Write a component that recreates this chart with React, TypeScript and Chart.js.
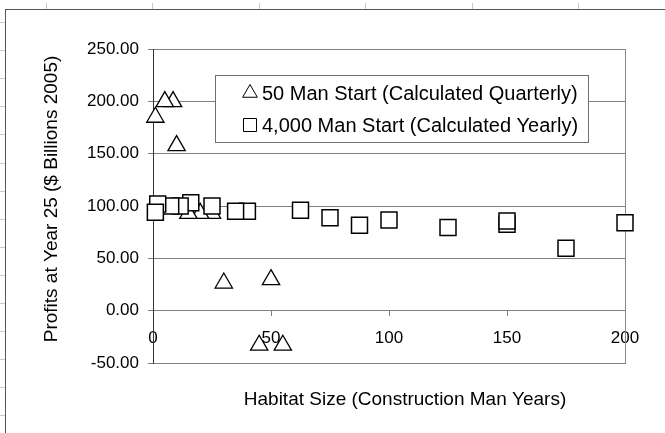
import React, { useEffect, useRef } from 'react';
import { Chart, registerables } from 'chart.js';

Chart.register(...registerables);

// ---- data ----
const seriesLabels = ['50 Man Start (Calculated Quarterly)', '4,000 Man Start (Calculated Yearly)'];
const triX = [55, 50, 45, 30, 25, 20, 15, 10, 8.5, 5, 1];
const triY = [-33, 29.6, -33, 26.4, 93, 93, 93, 157.7, 199.7, 199.7, 184.8];
const sqX = [200, 175, 150, 150, 125, 100, 87.5, 75, 62.5, 40, 35, 25, 16, 11.5, 7.5, 2, 1];
const sqY = [84, 59.6, 82.5, 85.6, 79.4, 86.6, 81.6, 88.7, 95.9, 95, 95, 100, 103, 100, 100, 102, 94];
const xTicks = [0, 50, 100, 150, 200];
const yTicks = [-50, 0, 50, 100, 150, 200, 250];
const xTitle = 'Habitat Size (Construction Man Years)';
const yTitle = 'Profits at Year 25 ($ Billions 2005)';

const FONT = '"Liberation Sans", Arial, Helvetica, sans-serif';

const framePlugin = {
  id: 'frameBox',
  beforeDatasetsDraw(chart: any) {
    const { ctx, chartArea: a } = chart;
    ctx.save();
    ctx.strokeStyle = '#888888';
    ctx.lineWidth = 1;
    ctx.beginPath();
    const x = Math.round(a.right) + 0.5;
    ctx.moveTo(x, Math.round(a.top));
    ctx.lineTo(x, Math.round(a.bottom) + 1);
    ctx.stroke();
    ctx.restore();
  },
};

const titlesPlugin = {
  id: 'axisTitles',
  afterDraw(chart: any) {
    const { ctx, chartArea: a } = chart;
    ctx.save();
    ctx.fillStyle = '#000';
    ctx.font = `19px ${FONT}`;
    ctx.textAlign = 'center';
    ctx.textBaseline = 'middle';
    ctx.fillText(xTitle, a.left + 252, a.bottom + 37);
    ctx.translate(52, a.top + 150);
    ctx.rotate(-Math.PI / 2);
    ctx.fillText(yTitle, 0, 0);
    ctx.restore();
  },
};

const legendPlugin = {
  id: 'boxLegend',
  afterDraw(chart: any) {
    const { ctx, chartArea: a } = chart;
    const bx = a.left + 62;
    const by = a.top + 26;
    const bw = 373;
    const bh = 67;
    ctx.save();
    ctx.fillStyle = '#ffffff';
    ctx.fillRect(bx, by, bw, bh);
    ctx.strokeStyle = '#707070';
    ctx.lineWidth = 1;
    ctx.strokeRect(bx + 0.5, by + 0.5, bw, bh);
    chart.data.datasets.forEach((ds: any, i: number) => {
      const cy = by + 18 + i * 32;
      const cx = bx + 35;
      ctx.strokeStyle = '#000';
      ctx.fillStyle = '#fff';
      ctx.lineWidth = 1;
      ctx.beginPath();
      if (ds.pointStyle === 'triangle') {
        const r = 8.5;
        ctx.moveTo(cx, cy - r);
        ctx.lineTo(cx + r * Math.sin((2 * Math.PI) / 3), cy + r / 2);
        ctx.lineTo(cx - r * Math.sin((2 * Math.PI) / 3), cy + r / 2);
        ctx.closePath();
      } else {
        ctx.rect(cx - 6.5, cy - 6.5, 13, 13);
      }
      ctx.fill();
      ctx.stroke();
      ctx.fillStyle = '#000';
      ctx.font = `20px ${FONT}`;
      ctx.textAlign = 'left';
      ctx.textBaseline = 'middle';
      ctx.fillText(ds.label, cx + 12, cy + 1);
    });
    ctx.restore();
  },
};

export default function App() {
  const canvasRef = useRef<HTMLCanvasElement>(null);

  useEffect(() => {
    document.body.style.margin = '0';
    const canvas = canvasRef.current;
    if (!canvas) return;
    const chart = new Chart(canvas, {
      type: 'scatter',
      data: {
        datasets: [
          {
            label: seriesLabels[0],
            data: triX.map((x, i) => ({ x, y: triY[i] })),
            pointStyle: 'triangle',
            pointRadius: 10,
            pointHoverRadius: 10,
            borderColor: '#000',
            backgroundColor: '#fff',
            borderWidth: 1.3,
            clip: false,
            order: 1,
          },
          {
            label: seriesLabels[1],
            data: sqX.map((x, i) => ({ x, y: sqY[i] })),
            pointStyle: 'rect',
            pointRadius: 11.3,
            pointHoverRadius: 11.3,
            borderColor: '#000',
            backgroundColor: '#fff',
            borderWidth: 1.5,
            clip: false,
            order: 0,
          },
        ],
      },
      options: {
        responsive: false,
        animation: false,
        events: [],
        layout: { padding: { top: 49, right: 40, bottom: 70, left: 0 } },
        plugins: {
          legend: { display: false },
          tooltip: { enabled: false },
        },
        scales: {
          x: {
            type: 'linear',
            position: { y: 0 } as any,
            min: 0,
            max: 200,
            afterBuildTicks: (scale: any) => {
              scale.ticks = xTicks.map((v) => ({ value: v }));
            },
            ticks: {
              color: '#000',
              font: { family: FONT, size: 17 },
              padding: 12,
              maxRotation: 0,
              callback: (v: any) => String(v),
            },
            grid: { drawOnChartArea: false, drawTicks: true, tickLength: 5, color: '#808080' },
            border: { display: true, color: '#808080', width: 1 },
          },
          y: {
            type: 'linear',
            position: 'left',
            min: -50,
            max: 250,
            afterBuildTicks: (scale: any) => {
              scale.ticks = yTicks.map((v) => ({ value: v }));
            },
            afterFit: (scale: any) => {
              scale.width = 153;
            },
            ticks: {
              color: '#000',
              font: { family: FONT, size: 17 },
              padding: 9,
              callback: (v: any) => Number(v).toFixed(2),
            },
            grid: { color: '#808080', tickLength: 5, drawTicks: true },
            border: { display: true, color: '#333333', width: 1 },
          },
        },
      },
      plugins: [framePlugin, titlesPlugin, legendPlugin],
    });
    return () => chart.destroy();
  }, []);

  const topMarks: number[] = [];
  for (let k = 0; k < 6; k++) topMarks.push(46 + k * 106.4);
  const leftMarks: number[] = [];
  for (let k = 0; k < 15; k++) leftMarks.push(22 + k * 28.1);

  return (
    <div style={{ position: 'relative', width: 665, height: 433, background: '#fff', overflow: 'hidden' }}>
      <div
        style={{
          position: 'absolute',
          left: 5,
          top: 9,
          width: 670,
          height: 440,
          borderTop: '1px solid #555',
          borderLeft: '1px solid #555',
        }}
      />
      {topMarks.map((x, i) => (
        <div key={'t' + i} style={{ position: 'absolute', left: Math.round(x), top: 3, width: 1, height: 6, background: '#c8c8c8' }} />
      ))}
      {leftMarks.map((y, i) => (
        <div key={'l' + i} style={{ position: 'absolute', left: 0, top: Math.round(y), width: 5, height: 1, background: '#c8c8c8' }} />
      ))}
      <canvas ref={canvasRef} width={665} height={433} style={{ position: 'absolute', left: 0, top: 0 }} />
    </div>
  );
}
